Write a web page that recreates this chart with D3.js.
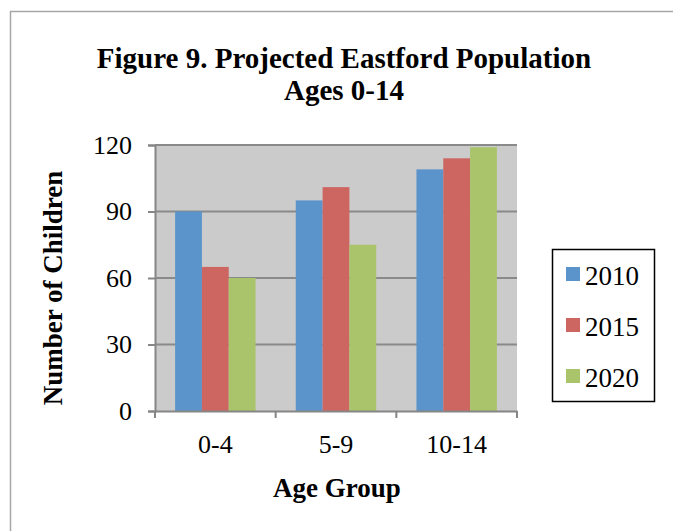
<!DOCTYPE html>
<html>
<head>
<meta charset="utf-8">
<script src="https://cdn.jsdelivr.net/npm/d3@7"></script>
<style>
  html, body { margin: 0; padding: 0; background: #ffffff; }
  svg { display: block; }
  text { font-family: "Liberation Serif", "Times New Roman", serif; fill: #000; }
</style>
</head>
<body>
<svg id="chart" width="673" height="531"></svg>
<script>
const categories = ["0-4", "5-9", "10-14"];
const seriesNames = ["2010", "2015", "2020"];
const values2010 = [90, 95, 109];
const values2015 = [65, 101, 114];
const values2020 = [60, 75, 119];
const yTicks = [0, 30, 60, 90, 120];
const colors = ["#5b94ca", "#cd6661", "#a9c46b"];

const seriesValues = [values2010, values2015, values2020];
const svg = d3.select("#chart");

// outer chart border
svg.append("path")
  .attr("d", "M10.5,531 L10.5,11.5 L673,11.5")
  .attr("fill", "none").attr("stroke", "#a6a6a6").attr("stroke-width", 1.5);

const plot = { left: 155, top: 145, right: 517, bottom: 411 };

const x0 = d3.scaleBand().domain(categories).range([plot.left, plot.right]).paddingInner(0).paddingOuter(0);
const y = d3.scaleLinear().domain([0, 120]).range([plot.bottom, plot.top]);

// plot background
svg.append("rect")
  .attr("x", plot.left).attr("y", plot.top)
  .attr("width", plot.right - plot.left).attr("height", plot.bottom - plot.top)
  .attr("fill", "#cbcbcb");

// gridlines
svg.append("g").selectAll("line").data(yTicks.filter(d => d > 0)).join("line")
  .attr("x1", plot.left).attr("x2", plot.right)
  .attr("y1", d => y(d)).attr("y2", d => y(d))
  .attr("stroke", "#8a8a8a").attr("stroke-width", 2);

// bars (gap width 150% of a bar)
const inner = x0.bandwidth() * 3 / 4.5;
const x1 = d3.scaleBand().domain(seriesNames).range([0, inner]);
const offset = (x0.bandwidth() - inner) / 2;

const groups = svg.append("g").selectAll("g").data(categories).join("g")
  .attr("transform", d => `translate(${x0(d) + offset},0)`);
groups.selectAll("rect").data((c, i) => seriesNames.map((s, j) => ({ s, v: seriesValues[j][i], j })))
  .join("rect")
  .attr("x", d => x1(d.s))
  .attr("width", x1.bandwidth())
  .attr("y", d => y(d.v))
  .attr("height", d => y(0) - y(d.v))
  .attr("fill", d => colors[d.j]);

// y axis
const yAxis = d3.axisLeft(y).tickValues(yTicks).tickSize(7).tickPadding(16).tickFormat(d3.format("d"));
const gy = svg.append("g").attr("transform", `translate(${plot.left},0)`).call(yAxis);
gy.select(".domain").attr("stroke", "#868686").attr("stroke-width", 2);
gy.selectAll(".tick line").attr("stroke", "#868686").attr("stroke-width", 2);
gy.selectAll(".tick text").style("font-size", "26px").attr("fill", "#000").attr("font-family", "Liberation Serif");

// x axis
const gx = svg.append("g").attr("transform", `translate(0,${plot.bottom})`)
  .call(d3.axisBottom(x0).tickSize(0).tickPadding(0));
gx.select(".domain").attr("stroke", "#868686").attr("stroke-width", 2);
gx.selectAll(".tick text").style("font-size", "26px").attr("fill", "#000")
  .attr("font-family", "Liberation Serif").attr("dy", null).attr("y", 42);
// category boundary ticks
const bounds = categories.map(c => x0(c)).concat([x0(categories[categories.length - 1]) + x0.bandwidth()]);
gx.append("g").selectAll("line").data(bounds).join("line")
  .attr("x1", d => d).attr("x2", d => d).attr("y1", 0).attr("y2", 7)
  .attr("stroke", "#868686").attr("stroke-width", 2);

// titles
svg.append("text").attr("x", 344).attr("y", 68).attr("text-anchor", "middle")
  .style("font-size", "29px").style("font-weight", "bold").text("Figure 9. Projected Eastford Population");
svg.append("text").attr("x", 344).attr("y", 100).attr("text-anchor", "middle")
  .style("font-size", "29px").style("font-weight", "bold").text("Ages 0-14");
svg.append("text").attr("x", 337).attr("y", 497).attr("text-anchor", "middle")
  .style("font-size", "27px").style("font-weight", "bold").text("Age Group");
svg.append("text").attr("transform", "translate(62,288) rotate(-90)").attr("text-anchor", "middle")
  .style("font-size", "27px").style("font-weight", "bold").text("Number of Children");

// legend
const lg = svg.append("g");
lg.append("rect").attr("x", 552.5).attr("y", 249.5).attr("width", 102).attr("height", 152)
  .attr("fill", "#fff").attr("stroke", "#000").attr("stroke-width", 1.5);
const items = lg.selectAll("g.item").data(seriesNames).join("g").attr("class", "item")
  .attr("transform", (d, i) => `translate(566,${267 + i * 51})`);
items.append("rect").attr("width", 14).attr("height", 14).attr("fill", (d, i) => colors[i]);
items.append("text").attr("x", 19).attr("y", 18).style("font-size", "27px").text(d => d);
</script>
</body>
</html>
